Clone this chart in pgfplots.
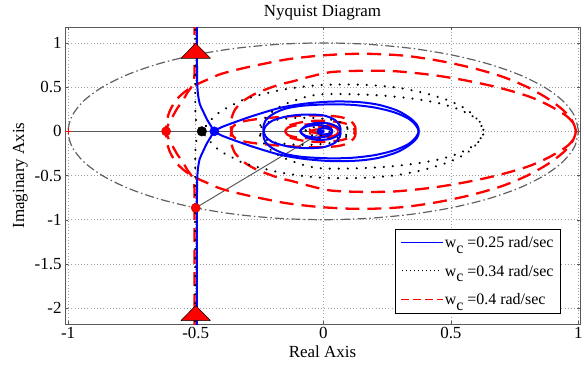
\documentclass[border=0pt]{standalone}
\usepackage{fontspec}
\setmainfont{Liberation Serif}
\usepackage{pgfplots}
\pgfplotsset{compat=1.18}
\definecolor{mblue}{rgb}{0,0,1}
\definecolor{mred}{rgb}{1,0,0}
\definecolor{dgray}{rgb}{0.35,0.35,0.35}
\definecolor{cgray}{rgb}{0.38,0.38,0.38}
\begin{document}
\begin{tikzpicture}
\useasboundingbox (-65bp,-45bp) rectangle (518.6bp,323.8bp);
\begin{axis}[
  at={(0,0)}, anchor=south west,
  scale only axis, width=514.6bp, height=296.8bp,
  xmin=-1.012, xmax=1.006, ymin=-2.18, ymax=1.18,
  xtick={-1,-0.5,0,0.5,1}, ytick={-2,-1.5,-1,-0.5,0,0.5,1},
  grid=major, grid style={dash pattern=on 1bp off 2.2bp, gray!75, line width=0.7bp},
  axis line style={dgray, line width=1bp},
  tick align=inside, major tick length=3bp, tick style={dgray},
  /pgf/number format/assume math mode=true,
  every tick label/.append style={font=\fontsize{17}{20}\selectfont},
  every axis title shift=0pt,
  title={Nyquist Diagram}, xlabel={Real Axis}, ylabel={Imaginary Axis},
  title style={font=\fontsize{17}{20}\selectfont, at={(axis description cs:0.5,1.047)}, anchor=center},
  xlabel style={font=\fontsize{17}{20}\selectfont, at={(axis description cs:0.5,-0.092)}, anchor=center},
  ylabel style={font=\fontsize{17}{20}\selectfont, at={(axis description cs:-0.087,0.5)}, anchor=center},
  legend style={at={(0.963,0.035)}, anchor=south east, draw=black, line width=1bp,
    fill=white, font=\fontsize{16}{19}\selectfont, row sep=12bp, inner sep=5bp,
    cells={anchor=west}},
  every axis plot/.append style={line join=round},
]
% unit circle
\addplot[cgray, line width=1.2bp, dash pattern=on 9bp off 3bp on 1.5bp off 3bp, forget plot, smooth] coordinates {
(1,0) (0.9848,0.1736) (0.9397,0.3420) (0.8660,0.5) (0.7660,0.6428) (0.6428,0.7660) (0.5,0.8660) (0.3420,0.9397) (0.1736,0.9848) (0,1) (-0.1736,0.9848) (-0.3420,0.9397) (-0.5,0.8660) (-0.6428,0.7660) (-0.7660,0.6428) (-0.8660,0.5) (-0.9397,0.3420) (-0.9848,0.1736) (-1,0) (-0.9848,-0.1736) (-0.9397,-0.3420) (-0.8660,-0.5) (-0.7660,-0.6428) (-0.6428,-0.7660) (-0.5,-0.8660) (-0.3420,-0.9397) (-0.1736,-0.9848) (0,-1) (0.1736,-0.9848) (0.3420,-0.9397) (0.5,-0.8660) (0.6428,-0.7660) (0.7660,-0.6428) (0.8660,-0.5) (0.9397,-0.3420) (0.9848,-0.1736) (1,0)};
% gray lines
\addplot[dgray, line width=1bp, forget plot] coordinates {(-1,0) (0,0)};
\addplot[dgray, line width=1bp, forget plot] coordinates {(-0.5,-0.866) (0,0)};
% red dashed, w=0.4
\addplot[mred, line width=2.3bp, dash pattern=on 14bp off 8bp, smooth, tension=0.5, forget plot] coordinates {
(-0.505,1.25) (-0.505,0.8) (-0.505,0.64) (-0.508,0.56) (-0.517,0.5) (-0.532,0.44) (-0.55,0.35) (-0.57,0.27) (-0.59,0.17) (-0.607,0.08) (-0.616,0.0) (-0.614,-0.1) (-0.603,-0.22) (-0.58,-0.34) (-0.55,-0.43) (-0.51,-0.51) (-0.45,-0.59) (-0.4,-0.65) (-0.32,-0.71) (-0.24,-0.76) (-0.14,-0.815) (-0.02,-0.855) (0.1,-0.875) (0.2,-0.875) (0.32,-0.855) (0.45,-0.8) (0.58,-0.72) (0.7,-0.62) (0.8,-0.5) (0.88,-0.37) (0.94,-0.24) (0.975,-0.12) (0.99,0.0) (0.98,0.09) (0.95,0.18) (0.88,0.3) (0.8,0.4) (0.68,0.5) (0.55,0.58) (0.42,0.64) (0.28,0.68) (0.15,0.685) (0.03,0.67) (-0.05,0.62) (-0.12,0.565) (-0.17,0.53) (-0.22,0.48) (-0.27,0.42) (-0.31,0.35) (-0.345,0.25) (-0.36,0.14) (-0.362,0.04) (-0.355,-0.05) (-0.33,-0.1) (-0.28,-0.13) (-0.2,-0.155) (-0.1,-0.175) (0.0,-0.18) (0.07,-0.16) (0.11,-0.11) (0.125,-0.05) (0.125,0.0) (0.11,0.06) (0.07,0.1) (0.0,0.12) (-0.07,0.11) (-0.13,0.07) (-0.15,0.02) (-0.14,-0.04) (-0.1,-0.07) (-0.04,-0.08) (0.02,-0.07) (0.05,-0.04) (0.06,0.0) (0.05,0.03) (0.02,0.05) (-0.02,0.05) (-0.05,0.03) (-0.05,0) (-0.03,-0.02) (0,-0.02) (0.01,0) (0,0)};
\addplot[mred, line width=2.3bp, dash pattern=on 14bp off 8bp, smooth, tension=0.5, forget plot] coordinates {
(-0.505,-2.25) (-0.505,-0.8) (-0.505,-0.64) (-0.508,-0.56) (-0.517,-0.5) (-0.532,-0.44) (-0.55,-0.35) (-0.57,-0.27) (-0.59,-0.17) (-0.607,-0.08) (-0.616,0.0) (-0.614,0.1) (-0.603,0.22) (-0.58,0.34) (-0.55,0.43) (-0.51,0.51) (-0.45,0.59) (-0.4,0.65) (-0.32,0.71) (-0.24,0.76) (-0.14,0.815) (-0.02,0.855) (0.1,0.875) (0.2,0.875) (0.32,0.855) (0.45,0.8) (0.58,0.72) (0.7,0.62) (0.8,0.5) (0.88,0.37) (0.94,0.24) (0.975,0.12) (0.99,0.0) (0.98,-0.09) (0.95,-0.18) (0.88,-0.3) (0.8,-0.4) (0.68,-0.5) (0.55,-0.58) (0.42,-0.64) (0.28,-0.68) (0.15,-0.685) (0.03,-0.67) (-0.05,-0.62) (-0.12,-0.565) (-0.17,-0.53) (-0.22,-0.48) (-0.27,-0.42) (-0.31,-0.35) (-0.345,-0.25) (-0.36,-0.14) (-0.362,-0.04) (-0.355,0.05) (-0.33,0.1) (-0.28,0.13) (-0.2,0.155) (-0.1,0.175) (0.0,0.18) (0.07,0.16) (0.11,0.11) (0.125,0.05) (0.125,0.0) (0.11,-0.06) (0.07,-0.1) (0.0,-0.12) (-0.07,-0.11) (-0.13,-0.07) (-0.15,-0.02) (-0.14,0.04) (-0.1,0.07) (-0.04,0.08) (0.02,0.07) (0.05,0.04) (0.06,0.0) (0.05,-0.03) (0.02,-0.05) (-0.02,-0.05) (-0.05,-0.03) (-0.05,0) (-0.03,0.02) (0,0.02) (0.01,0) (0,0)};
% black dotted, w=0.34
\addplot[black, line width=2.4bp, line cap=round, dash pattern=on 0.01bp off 9bp, smooth, tension=0.5, forget plot] coordinates {
(-0.502,1.25) (-0.502,0.5) (-0.501,0.2) (-0.497,0.1) (-0.488,0.04) (-0.476,0) (-0.46,-0.06) (-0.445,-0.11) (-0.43,-0.16) (-0.4,-0.23) (-0.36,-0.29) (-0.32,-0.35) (-0.25,-0.41) (-0.17,-0.465) (-0.08,-0.505) (0.0,-0.525) (0.1,-0.53) (0.2,-0.52) (0.3,-0.49) (0.4,-0.43) (0.49,-0.35) (0.56,-0.25) (0.605,-0.13) (0.628,0.0) (0.618,0.09) (0.585,0.17) (0.53,0.25) (0.45,0.32) (0.35,0.37) (0.23,0.405) (0.11,0.42) (0.0,0.42) (-0.06,0.395) (-0.12,0.34) (-0.17,0.28) (-0.21,0.2) (-0.24,0.11) (-0.25,0.02) (-0.24,-0.06) (-0.2,-0.12) (-0.12,-0.15) (-0.03,-0.15) (0.05,-0.12) (0.09,-0.06) (0.1,0.0) (0.085,0.05) (0.04,0.08) (-0.02,0.08) (-0.06,0.05) (-0.07,0) (-0.05,-0.04) (-0.01,-0.05) (0.02,-0.03) (0.025,0) (0.01,0.02) (0,0)};
\addplot[black, line width=2.4bp, line cap=round, dash pattern=on 0.01bp off 9bp, smooth, tension=0.5, forget plot] coordinates {
(-0.502,-2.25) (-0.502,-0.5) (-0.501,-0.2) (-0.497,-0.1) (-0.488,-0.04) (-0.476,0) (-0.46,0.06) (-0.445,0.11) (-0.43,0.16) (-0.4,0.23) (-0.36,0.29) (-0.32,0.35) (-0.25,0.41) (-0.17,0.465) (-0.08,0.505) (0.0,0.525) (0.1,0.53) (0.2,0.52) (0.3,0.49) (0.4,0.43) (0.49,0.35) (0.56,0.25) (0.605,0.13) (0.628,0.0) (0.618,-0.09) (0.585,-0.17) (0.53,-0.25) (0.45,-0.32) (0.35,-0.37) (0.23,-0.405) (0.11,-0.42) (0.0,-0.42) (-0.06,-0.395) (-0.12,-0.34) (-0.17,-0.28) (-0.21,-0.2) (-0.24,-0.11) (-0.25,-0.02) (-0.24,0.06) (-0.2,0.12) (-0.12,0.15) (-0.03,0.15) (0.05,0.12) (0.09,0.06) (0.1,0.0) (0.085,-0.05) (0.04,-0.08) (-0.02,-0.08) (-0.06,-0.05) (-0.07,0) (-0.05,0.04) (-0.01,0.05) (0.02,0.03) (0.025,0) (0.01,-0.02) (0,0)};
% blue solid, w=0.25
\addplot[mblue, line width=2bp, smooth, tension=0.5, forget plot] coordinates {
(-0.495,1.25) (-0.495,0.8) (-0.494,0.55) (-0.491,0.42) (-0.484,0.31) (-0.47,0.22) (-0.455,0.13) (-0.44,0.06) (-0.427,0) (-0.40,-0.045) (-0.35,-0.10) (-0.27,-0.18) (-0.17,-0.265) (-0.08,-0.31) (0.0,-0.332) (0.07,-0.338) (0.15,-0.328) (0.22,-0.298) (0.29,-0.235) (0.34,-0.15) (0.368,-0.07) (0.374,0) (0.362,0.07) (0.333,0.145) (0.278,0.215) (0.2,0.27) (0.11,0.3) (0.02,0.305) (-0.08,0.29) (-0.15,0.255) (-0.2,0.19) (-0.228,0.115) (-0.235,0.03) (-0.228,-0.05) (-0.2,-0.12) (-0.14,-0.17) (-0.07,-0.19) (0.0,-0.18) (0.045,-0.13) (0.065,-0.06) (0.067,0.0) (0.055,0.05) (0.02,0.09) (-0.03,0.095) (-0.07,0.06) (-0.09,0.0) (-0.07,-0.05) (-0.03,-0.07) (0.01,-0.06) (0.03,-0.03) (0.035,0) (0.025,0.025) (0,0.035) (-0.02,0.02) (-0.02,0) (0,-0.01) (0,0)};
\addplot[mblue, line width=2bp, smooth, tension=0.5, forget plot] coordinates {
(-0.495,-2.25) (-0.495,-0.8) (-0.494,-0.55) (-0.491,-0.42) (-0.484,-0.31) (-0.47,-0.22) (-0.455,-0.13) (-0.44,-0.06) (-0.427,0) (-0.40,0.045) (-0.35,0.10) (-0.27,0.18) (-0.17,0.265) (-0.08,0.31) (0.0,0.332) (0.07,0.338) (0.15,0.328) (0.22,0.298) (0.29,0.235) (0.34,0.15) (0.368,0.07) (0.374,0) (0.362,-0.07) (0.333,-0.145) (0.278,-0.215) (0.2,-0.27) (0.11,-0.3) (0.02,-0.305) (-0.08,-0.29) (-0.15,-0.255) (-0.2,-0.19) (-0.228,-0.115) (-0.235,-0.03) (-0.228,0.05) (-0.2,0.12) (-0.14,0.17) (-0.07,0.19) (0.0,0.18) (0.045,0.13) (0.065,0.06) (0.067,0.0) (0.055,-0.05) (0.02,-0.09) (-0.03,-0.095) (-0.07,-0.06) (-0.09,0.0) (-0.07,0.05) (-0.03,0.07) (0.01,0.06) (0.03,0.03) (0.035,0) (0.025,-0.025) (0,-0.035) (-0.02,-0.02) (-0.02,0) (0,0.01) (0,0)};
% markers
\addplot[only marks, mark=+, mark size=3bp, mark options={mred, line width=1bp}, forget plot] coordinates {(-1,0)};
\addplot[only marks, mark=*, mark size=4.6bp, mark options={fill=mred, draw=mred!80!black}, forget plot] coordinates {(-0.616,0) (-0.5,-0.866)};
\addplot[only marks, mark=*, mark size=4.8bp, mark options={fill=black, draw=black}, forget plot] coordinates {(-0.476,0)};
\addplot[only marks, mark=*, mark size=4.6bp, mark options={fill=mblue, draw=mblue}, forget plot] coordinates {(-0.427,0)};
\addplot[only marks, mark=triangle*, mark size=10bp, mark options={xscale=1.7, fill=mred, draw=black, line width=0.5bp}, forget plot] coordinates {(-0.5,0.883) (-0.5,-2.084)};
% legend (samples set as coloured rules in text, so the colour is kept)
\addlegendimage{legend image code/.code={\node[anchor=west, inner sep=0pt, outer sep=0pt, text=mblue] at (0bp,0bp) {\rule[-0.55bp]{42bp}{1.1bp}};}}
\addlegendentry{w\raisebox{-0.8ex}{c} =0.25 rad/sec}
\addlegendimage{legend image code/.code={\node[anchor=west, inner sep=0pt, outer sep=0pt, text=black] at (0bp,0bp) {\hbox to 42bp{\leaders\hbox to 4bp{\hss\rule[-0.6bp]{1.2bp}{1.2bp}\hss}\hfill}};}}
\addlegendentry{w\raisebox{-0.8ex}{c} =0.34 rad/sec}
\addlegendimage{legend image code/.code={\node[anchor=west, inner sep=0pt, outer sep=0pt, text=mred] at (0bp,0bp) {\rule[-0.65bp]{8bp}{1.3bp}\hspace{4bp}\rule[-0.65bp]{8bp}{1.3bp}\hspace{4bp}\rule[-0.65bp]{8bp}{1.3bp}\hspace{4bp}\rule[-0.65bp]{6bp}{1.3bp}};}}
\addlegendentry{w\raisebox{-0.8ex}{c} =0.4 rad/sec}
\end{axis}
\end{tikzpicture}
\end{document}
